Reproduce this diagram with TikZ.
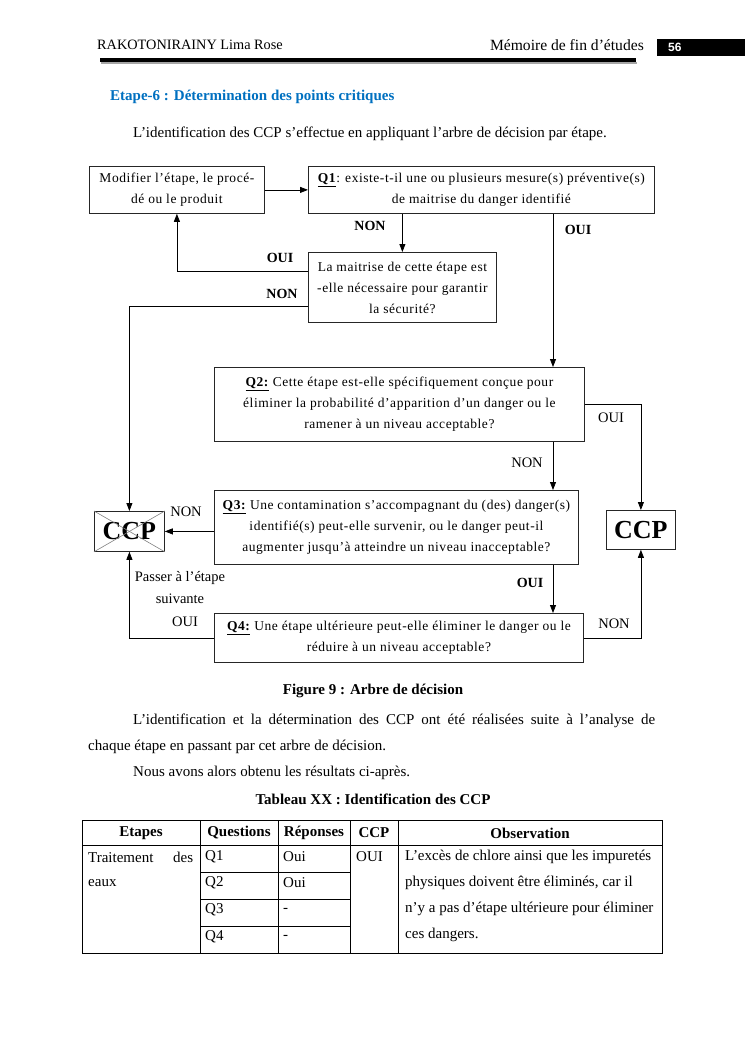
\documentclass[tikz,border=0pt]{standalone}
\usepackage{fontspec}
\setmainfont{Liberation Serif}
\newfontfamily\headsans{Liberation Sans}
\newfontfamily\chartfont[LetterSpace=4]{Liberation Serif}
\usetikzlibrary{arrows.meta,calc}
\definecolor{titleblue}{RGB}{0,112,192}
\begin{document}
\begin{tikzpicture}[x=1pt,y=-1pt,
  box/.style={draw=black!85,line width=0.8pt,anchor=north west,inner sep=2pt,align=center,
     font=\chartfont\fontsize{13.5}{21}\selectfont},
  arr/.style={draw=black,line width=0.8pt,-{Triangle[length=8pt,width=6pt]}},
  lbl/.style={font=\fontsize{14}{16}\selectfont\bfseries,inner sep=0pt},
  lblr/.style={font=\fontsize{14.5}{16}\selectfont,inner sep=0pt},
  body/.style={font=\fontsize{15}{17}\selectfont,inner sep=0pt},
  tb/.style={font=\fontsize{15}{17}\selectfont,inner sep=0pt},
  tbh/.style={font=\fontsize{15}{17}\selectfont\bfseries,inner sep=0pt},
  tbl/.style={line width=0.8pt},
  ccpbox/.style={draw=black!85,line width=0.8pt,anchor=north west,inner sep=0pt,
     font=\fontsize{26}{28}\selectfont\bfseries}
]
\useasboundingbox (0,0) rectangle (745,1053);
% header
\node[anchor=west,inner sep=0pt,font=\fontsize{14.3}{18}\selectfont] (hl) at (97,45) {RAKOTONIRAINY Lima Rose};
\node[anchor=east,inner sep=0pt,font=\fontsize{15.6}{18}\selectfont] (hr) at (644,45) {Mémoire de fin d’études};
\fill[black] (657,39) rectangle (745,56);
\node[anchor=west,inner sep=0pt,text=white,font=\headsans\fontsize{12}{14}\selectfont\bfseries] (pg) at (668,47.5) {56};
\draw[black!35,line width=2pt] (101,63) -- (637,63);
\draw[black,line width=3.5pt] (100,60) -- (636,60);
% title
\node[anchor=west,inner sep=0pt,text=titleblue,font=\fontsize{15}{17}\selectfont\bfseries] (ttl) at (110,97) {Etape-6 : Détermination des points critiques};
\node[anchor=west,body] (intro) at (133,134) {L’identification des CCP s’effectue en appliquant l’arbre de décision par étape.};
% flowchart boxes
\node[box,minimum width=175pt,minimum height=47pt] (mod) at (89,166) {Modifier l’étape, le procé-\\dé ou le produit};
\node[box,minimum width=346pt,minimum height=47pt] (q1) at (308,166) {\underline{\textbf{Q1}}: existe-t-il une ou plusieurs mesure(s) préventive(s)\\de maitrise du danger identifié};
\node[box,minimum width=188pt,minimum height=70pt] (lam) at (308,252) {La maitrise de cette étape est\\-elle nécessaire pour garantir\\la sécurité?};
\node[box,minimum width=370pt,minimum height=74pt] (q2) at (214,367) {\underline{\textbf{Q2:}} Cette étape est-elle spécifiquement conçue pour\\éliminer la probabilité d’apparition d’un danger ou le\\ramener à un niveau acceptable?};
\node[box,minimum width=364pt,minimum height=74pt] (q3) at (214,490) {\underline{\textbf{Q3:}} Une contamination s’accompagnant du (des) danger(s)\\identifié(s) peut-elle survenir, ou le danger peut-il\\augmenter jusqu’à atteindre un niveau inacceptable?};
\node[box,minimum width=369pt,minimum height=49pt] (q4) at (214,613) {\underline{\textbf{Q4:}} Une étape ultérieure peut-elle éliminer le danger ou le\\réduire à un niveau acceptable?};
\node[ccpbox,minimum width=70pt,minimum height=40pt] (ccpx) at (94,511) {CCP};
\draw[black!50,line width=0.6pt] (ccpx.north west) -- (ccpx.south east);
\draw[black!50,line width=0.6pt] (ccpx.south west) -- (ccpx.north east);
\node[ccpbox,minimum width=69pt,minimum height=39pt] (ccp) at (606,510) {CCP};
% helper coordinates
\coordinate (xr) at (553,0);
\coordinate (lamA) at (308,271);
\coordinate (lamB) at (308,306);
% connectors
\draw[arr] (mod.east) -- (q1.west);
\draw[arr] (q1.south -| lam.north) -- (lam.north);
\draw[arr] (q1.south -| xr) -- (q2.north -| xr);
\draw[arr] (lamA) -| (mod.south);
\draw[arr] (lamB) -| (ccpx.north);
\draw[arr] (q2.east) -| (ccp.north);
\draw[arr] (q2.south -| xr) -- (q3.north -| xr);
\draw[arr] (q3.west |- ccpx.east) -- (ccpx.east);
\draw[arr] (q3.south -| xr) -- (q4.north -| xr);
\draw[arr] (q4.west) -| (ccpx.south);
\draw[arr] (q4.east) -| (ccp.south);
% labels
\node[lbl] (l1) at (370,226) {NON};
\node[lbl] (l2) at (578,230) {OUI};
\node[lbl] (l3) at (280,258) {OUI};
\node[lbl] (l4) at (282,294) {NON};
\node[lblr] (l5) at (611,418) {OUI};
\node[lblr] (l6) at (527,463) {NON};
\node[lblr] (l7) at (186,512) {NON};
\node[lbl] (l8) at (530,583) {OUI};
\node[lblr] (l9) at (614,624) {NON};
\node[lblr] (l10) at (185,622) {OUI};
\node[lblr] (l11) at (180,578) {Passer à l’étape};
\node[lblr] (l12) at (180,599) {suivante};
% caption and text
\node[inner sep=0pt,font=\fontsize{15}{17}\selectfont\bfseries] (cap) at (373,691) {Figure 9 : Arbre de décision};
\node[anchor=west,body] (p1) at (133,721) {\makebox[522pt][s]{L’identification et la détermination des CCP ont été réalisées suite à l’analyse de}};
\node[anchor=west,body] (p2) at (88,747) {chaque étape en passant par cet arbre de décision.};
\node[anchor=west,body] (p3) at (133,773) {Nous avons alors obtenu les résultats ci-après.};
\node[inner sep=0pt,font=\fontsize{15}{17}\selectfont\bfseries] (tcap) at (373,799) {Tableau XX : Identification des CCP};
% table
\draw[tbl] (82,820) rectangle (662,953);
\draw[tbl] (82,845) -- (662,845);
\foreach \x in {200,278,350,398} \draw[tbl] (\x,820) -- (\x,953);
\foreach \y in {872,899,926} \draw[tbl] (200,\y) -- (350,\y);
\node[tbh] (h1) at (141,833) {Etapes};
\node[tbh] (h2) at (239,833) {Questions};
\node[tbh] (h3) at (314,833) {Réponses};
\node[tbh] (h4) at (374,833) {CCP};
\node[tbh] (h5) at (530,833) {Observation};
\node[tb,anchor=west] (e1) at (88,857) {\makebox[105pt][s]{Traitement des}};
\node[tb,anchor=west] (e2) at (88,883) {eaux};
\node[tb,anchor=west] (qa) at (205,857) {Q1};
\node[tb,anchor=west] (qb) at (205,883) {Q2};
\node[tb,anchor=west] (qc) at (205,910) {Q3};
\node[tb,anchor=west] (qd) at (205,937) {Q4};
\node[tb,anchor=west] (ra) at (283,857) {Oui};
\node[tb,anchor=west] (rb) at (283,883) {Oui};
\node[tb,anchor=west] (rc) at (283,910) {-};
\node[tb,anchor=west] (rd) at (283,937) {-};
\node[tb,anchor=west] (cc) at (356,857) {OUI};
\node[tb,anchor=west] (o1) at (405,857) {L’excès de chlore ainsi que les impuretés};
\node[tb,anchor=west] (o2) at (405,883) {physiques doivent être éliminés, car il};
\node[tb,anchor=west] (o3) at (405,909) {n’y a pas d’étape ultérieure pour éliminer};
\node[tb,anchor=west] (o4) at (405,935) {ces dangers.};
\end{tikzpicture}
\end{document}
